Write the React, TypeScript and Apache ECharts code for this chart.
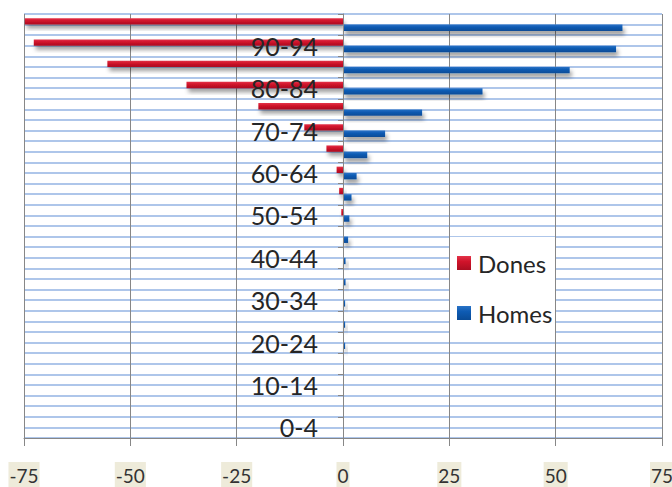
import { useEffect, useRef } from 'react';
import * as echarts from 'echarts';

// Age groups, bottom to top
const ageGroups = [
  '0-4', '5-9', '10-14', '15-19', '20-24', '25-29', '30-34', '35-39', '40-44', '45-49',
  '50-54', '55-59', '60-64', '65-69', '70-74', '75-79', '80-84', '85-89', '90-94', '95-99',
];

// Women drawn to the left (negative), men to the right
const dones = [
  0, 0, 0, 0, 0, 0, 0, 0, 0, 0,
  -0.4, -0.9, -1.5, -3.9, -9.1, -19.9, -36.8, -55.4, -72.7, -74.8,
];
const homes = [
  0, 0, 0, 0, 0.5, 0.5, 0.5, 0.6, 0.6, 1.2,
  1.5, 2.0, 3.2, 5.7, 9.9, 18.6, 32.8, 53.3, 64.2, 65.7,
];

const xMin = -75;
const xMax = 75;
const xStep = 25;

const GRAY = '#878787';

const WIDTH = 672;
const HEIGHT = 487;
const plotRect = { left: 24, right: 10, top: 14, bottom: 49 };

export default function App() {
  const ref = useRef<HTMLDivElement>(null);

  useEffect(() => {
    const chart = echarts.init(ref.current!, null, { renderer: 'svg' });

    // shift the category axis from the grid's left edge onto value 0
    const plotWidth = WIDTH - plotRect.left - plotRect.right;
    const zeroShift = (plotWidth * (0 - xMin)) / (xMax - xMin);

    const redFill = new echarts.graphic.LinearGradient(0, 0, 0, 1, [
      { offset: 0, color: '#e33449' },
      { offset: 0.4, color: '#d0132a' },
      { offset: 1, color: '#ab0e21' },
    ]);
    const blueFill = new echarts.graphic.LinearGradient(0, 0, 0, 1, [
      { offset: 0, color: '#2a73c6' },
      { offset: 0.4, color: '#0e5bb3' },
      { offset: 1, color: '#0a4b96' },
    ]);

    const barShadow = {
      shadowColor: 'rgba(0,0,0,0.38)',
      shadowBlur: 4,
      shadowOffsetX: 2,
      shadowOffsetY: 4,
    };

    chart.setOption({
      animation: false,
      backgroundColor: '#ffffff',
      grid: [
        { ...plotRect, containLabel: false, outerBoundsMode: 'none' },
        // overlay grid that only carries the half-category guide lines
        { ...plotRect, containLabel: false, outerBoundsMode: 'none' },
      ],
      graphic: [
        {
          type: 'rect',
          left: 450,
          top: 237,
          z: 1,
          shape: { width: 105, height: 105 },
          style: { fill: '#ffffff' },
        },
      ],
      legend: {
        data: ['Dones', 'Homes'],
        orient: 'vertical',
        left: 450,
        top: 237,
        padding: [11, 4, 11, 7],
        itemWidth: 14,
        itemHeight: 14,
        itemGap: 20,
        icon: 'rect',
        z: 6,
        textStyle: {
          fontFamily: 'Lato',
          fontSize: 24,
          lineHeight: 30,
          color: '#262626',
          padding: [0, 0, 0, 2],
        },
      },
      xAxis: [
        {
          type: 'value',
          gridIndex: 0,
          min: xMin,
          max: xMax,
          interval: xStep,
          z: 2,
          axisLine: { show: true, onZero: false, lineStyle: { color: GRAY, width: 1 } },
          axisTick: { show: true, length: 8, lineStyle: { color: GRAY } },
          splitLine: { show: true, lineStyle: { color: GRAY, width: 1 } },
          axisLabel: {
            margin: 24,
            fontFamily: 'Lato',
            fontSize: 19,
            lineHeight: 26,
            color: '#333333',
            backgroundColor: '#eeebda',
            padding: [0, 1, 0, 1],
            showMinLabel: true,
            showMaxLabel: true,
          },
        },
        {
          type: 'value',
          gridIndex: 1,
          min: 0,
          max: 1,
          show: false,
        },
      ],
      yAxis: [
        {
          type: 'category',
          gridIndex: 0,
          data: ageGroups,
          position: 'left',
          offset: -zeroShift,
          z: 5,
          axisLine: { show: true, onZero: false, lineStyle: { color: GRAY, width: 1 } },
          axisTick: { show: true, length: 5, interval: 0, lineStyle: { color: GRAY } },
          splitLine: { show: false },
          axisLabel: {
            interval: 1,
            margin: 25,
            fontFamily: 'Lato',
            fontSize: 25,
            color: '#262626',
          },
        },
        {
          type: 'value',
          gridIndex: 1,
          min: 0,
          max: ageGroups.length * 2,
          interval: 1,
          z: 0,
          axisLine: { show: false, onZero: false },
          axisTick: { show: false },
          axisLabel: { show: false },
          splitLine: { show: true, lineStyle: { color: '#aec6ea', width: 2 } },
        },
      ],
      series: [
        {
          name: 'Dones',
          type: 'bar',
          xAxisIndex: 0,
          yAxisIndex: 0,
          data: dones,
          z: 3,
          barWidth: '30%',
          barGap: '0%',
          itemStyle: { color: redFill, ...barShadow },
        },
        {
          name: 'Homes',
          type: 'bar',
          xAxisIndex: 0,
          yAxisIndex: 0,
          data: homes,
          z: 3,
          barWidth: '30%',
          barGap: '0%',
          itemStyle: { color: blueFill, ...barShadow },
        },
      ],
    });

    return () => chart.dispose();
  }, []);

  return (
    <div
      ref={ref}
      style={{ position: 'fixed', left: 0, top: 0, width: WIDTH, height: HEIGHT, background: '#fff' }}
    />
  );
}
